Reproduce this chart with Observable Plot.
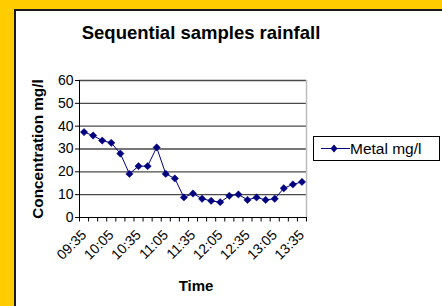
<!DOCTYPE html>
<html>
<head>
<meta charset="utf-8">
<script src="https://cdn.jsdelivr.net/npm/d3@7"></script>
<script src="https://cdn.jsdelivr.net/npm/@observablehq/plot@0.6"></script>
<style>
  html, body { margin: 0; padding: 0; }
  body { font-family: "Liberation Sans", Arial, sans-serif; }
  #wrap { position: relative; width: 442px; height: 306px; background: #FFCC00; overflow: hidden; }
  #panel { position: absolute; left: 14px; top: 9px; right: 0; bottom: 0; background: #fff;
           border-left: 2px solid #1a1a1a; border-top: 2px solid #1a1a1a; }
  #chart { position: absolute; left: 0; top: 0; }
  #title { position: absolute; left: 0; width: 402px; top: 22px; text-align: center;
           font-weight: bold; font-size: 18.5px; line-height: 21px; color: #000; }
  #legend { position: absolute; left: 313px; top: 136px; width: 125px; height: 23px;
            border: 1px solid #000; background: #fff; }
  #legend svg { position: absolute; left: 0; top: 0; }
  #legend span { position: absolute; left: 36px; top: 2px; font-size: 15.5px; line-height: 19px; color: #000; }
</style>
</head>
<body>
<div id="wrap">
  <div id="panel"></div>
  <div id="chart"></div>
  <div id="title">Sequential samples rainfall</div>
  <div id="legend">
    <svg width="36" height="23"><line x1="7" x2="36" y1="11.5" y2="11.5" stroke="#000080" stroke-width="1"/>
      <path d="M20,7.5 L23.5,11.5 L20,15.5 L16.5,11.5 Z" fill="#000080"/></svg>
    <span>Metal mg/l</span>
  </div>
</div>
<script>
const times = ["09:35","09:45","09:55","10:05","10:15","10:25","10:35","10:45","10:55","11:05",
               "11:15","11:25","11:35","11:45","11:55","12:05","12:15","12:25","12:35","12:45",
               "12:55","13:05","13:15","13:25","13:35"];
const metal = [37.4, 35.9, 33.7, 32.7, 28.0, 19.1, 22.5, 22.5, 30.7, 19.1,
               17.1, 8.8, 10.5, 8.2, 7.3, 6.7, 9.5, 10.1, 7.7, 8.8,
               7.7, 8.2, 12.8, 14.5, 15.6];
const yTicks = [0, 10, 20, 30, 40, 50, 60];
const xLabelTimes = ["09:35","10:05","10:35","11:05","11:35","12:05","12:35","13:05","13:35"];
const seriesName = "Metal mg/l";

const data = times.map((t, i) => ({i, t, v: metal[i]}));
const xMin = -0.5, xMax = times.length - 0.5;
const boundaries = d3.range(times.length + 1).map(k => k - 0.5);
const labelIdx = xLabelTimes.map(t => times.indexOf(t));
const navy = "#000080";

const chart = Plot.plot({
  width: 442,
  height: 306,
  marginLeft: 79,
  marginRight: 136,
  marginTop: 80,
  marginBottom: 89,
  style: {fontFamily: "'Liberation Sans', Arial, sans-serif", fontSize: "14px", color: "#000", background: "transparent", overflow: "visible"},
  x: {type: "linear", domain: [xMin, xMax], axis: null},
  y: {domain: [0, 60], axis: null},
  marks: [
    Plot.ruleY(yTicks.filter(d => d > 0), {stroke: "#4a4a4a", strokeWidth: 1.3}),
    Plot.ruleX([xMax], {stroke: "#bdbdbd", strokeWidth: 1.5}),
    Plot.ruleX([xMin], {stroke: "#000", strokeWidth: 1}),
    Plot.ruleY([0], {stroke: "#000", strokeWidth: 1.2}),
    Plot.ruleX(boundaries, {x: d => d, y1: 0, y2: 0, insetBottom: -4.5, stroke: "#000", strokeWidth: 1}),
    Plot.ruleY(yTicks, {y: d => d, x1: xMin, x2: xMin, insetLeft: -4, stroke: "#000", strokeWidth: 1}),
    Plot.text(yTicks, {y: d => d, frameAnchor: "left", dx: -6, textAnchor: "end", text: d => String(d), fontSize: 14}),
    Plot.text(labelIdx, {x: d => d, frameAnchor: "bottom", dx: 0, dy: 15, rotate: -45, textAnchor: "end", lineAnchor: "middle", text: d => times[d], fontSize: 14}),
    Plot.line(data, {x: "i", y: "v", stroke: navy, strokeWidth: 1}),
    Plot.dot(data, {x: "i", y: "v", symbol: "diamond2", r: 3.3, fill: navy, stroke: navy, strokeWidth: 0.5}),
    Plot.text(["Concentration mg/l"], {frameAnchor: "left", dx: -41, rotate: -90, textAnchor: "middle", lineAnchor: "middle", fontWeight: "bold", fontSize: 15.3, text: d => d}),
    Plot.text(["Time"], {frameAnchor: "bottom", dx: 3, dy: 73, textAnchor: "middle", fontWeight: "bold", fontSize: 15, text: d => d})
  ]
});
document.getElementById("chart").appendChild(chart);
</script>
</body>
</html>
